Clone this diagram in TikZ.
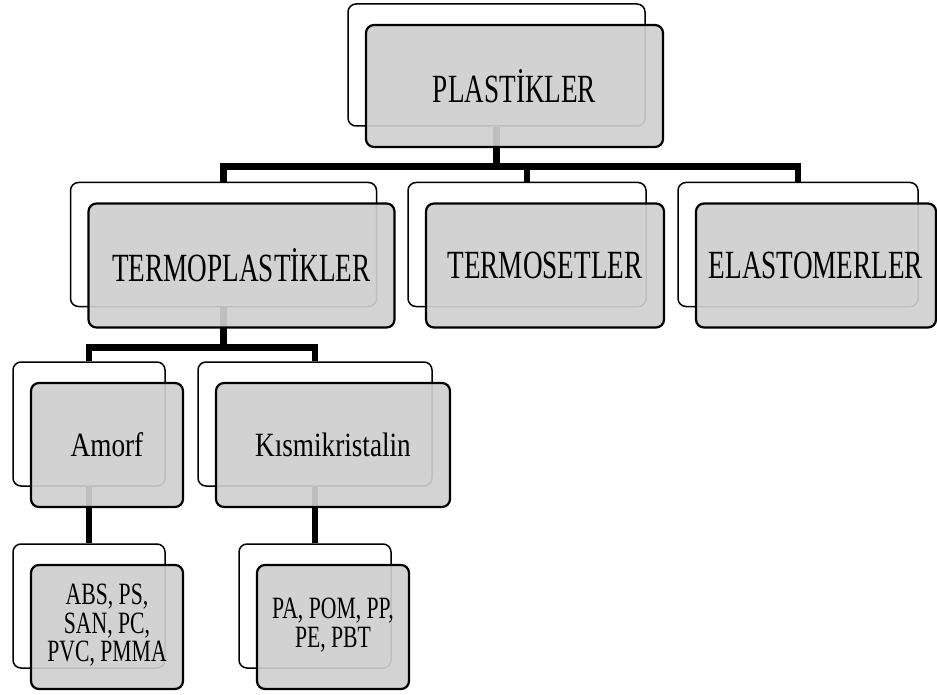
\documentclass[tikz,border=0pt]{standalone}
\usepackage{fontspec}
\setmainfont{Liberation Serif}
\usepackage{graphicx}
\usetikzlibrary{positioning,backgrounds}

\newcommand{\toptxt}[1]{\fontsize{40}{44}\selectfont\scalebox{0.68}[1]{#1}}
\newcommand{\midtxt}[1]{\fontsize{34}{38}\selectfont\scalebox{0.80}[1]{#1}}
\newcommand{\lowtxt}[1]{\fontsize{31}{28}\selectfont\scalebox{0.70}[1]{\begin{tabular}{@{}c@{}}#1\end{tabular}}}

\begin{document}
\begin{tikzpicture}[x=1pt, y=-1pt,
   back/.style={draw,rounded corners=8pt,line width=1.5pt,fill=white,inner sep=0pt},
   front/.style={draw,rounded corners=8pt,line width=2.2pt,fill=black!19,fill opacity=0.92,text opacity=1,inner sep=0pt,align=center},
   tree/.style={line width=6.5pt}]
   \useasboundingbox (0,0) rectangle (937,695);
   \foreach \pos/\name/\bw/\bh/\disp in {{(496.5,65)/plast/297/122/\toptxt{PLASTİKLER}}, {(223.5,244.5)/termop/306/124/\toptxt{TERMOPLASTİKLER}}, {(527,244.5)/termos/238/124/\toptxt{TERMOSETLER}}, {(798,244.5)/elast/240/124/\toptxt{ELASTOMERLER}}, {(89,424)/amorf/152/124/\midtxt{Amorf}}, {(315,424)/kismi/234/124/\midtxt{Kısmikristalin}}, {(89,606)/abs/152/124/\lowtxt{ABS, PS,\\SAN, PC,\\PVC, PMMA}}, {(315,606)/pa/152/124/\lowtxt{PA, POM, PP,\\PE, PBT}}}
   {\node[back,minimum width=\bw pt,minimum height=\bh pt] (\name b) at \pos {};
   \node[front,minimum width=\bw pt,minimum height=\bh pt] (\name) at ([shift={(18,21)}]\name b.center) {\disp};}
   \begin{scope}[on background layer]
   \foreach \source/ \dest in {plast/termop, plast/termos, plast/elast, termop/amorf, termop/kismi, amorf/abs, kismi/pa} % tree lines run between the back boxes
   \draw[tree] (\source b.south) -- ++(0,40) -| (\dest b.north);
   \end{scope}
\end{tikzpicture}
\end{document}
